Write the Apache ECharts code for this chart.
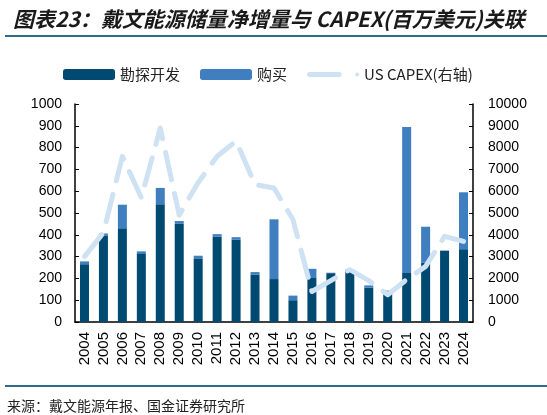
<!DOCTYPE html>
<html>
<head>
<meta charset="utf-8">
<script src="https://cdn.jsdelivr.net/npm/echarts@6/dist/echarts.min.js"></script>
<style>
html,body{margin:0;padding:0;background:#fff;}
#main{width:547px;height:415px;}
</style>
</head>
<body>
<div id="main"></div>
<script>
var years = ['2004','2005','2006','2007','2008','2009','2010','2011','2012','2013','2014',
             '2015','2016','2017','2018','2019','2020','2021','2022','2023','2024'];
// 勘探开发 (dark bars)
var explore = [265, 395, 430, 312, 540, 450, 292, 391, 377, 218, 197,
               100, 205, 224, 239, 157, 134, 225, 272, 327, 334];
// 购买 (light bars, stacked on top)
var purchase = [13, 11, 108, 12, 75, 13, 12, 12, 12, 11, 274,
                21, 39, 2, 2, 11, 10, 670, 165, 1, 261];
// US CAPEX, right axis
var capex = [3000, 4100, 7600, 5700, 8900, 4900, 6400, 7600, 8300, 6300, 6150,
             4700, 1400, 1900, 2400, 1900, 1250, 1950, 2550, 3930, 3700];

var myChart = echarts.init(document.getElementById('main'));
var numFont = 'Liberation Sans';
var cjkFont = 'Noto Sans CJK SC';
var plain = function (v) { return String(v); };
// legend icon for the dashed line: one dash and a dot
var dashIcon = 'path://M2.5,3L33.5,3A2.5,2.5 0 0 1 33.5,8L2.5,8A2.5,2.5 0 0 1 2.5,3Z' +
               'M52,3.5A2,2 0 1 1 52,7.5A2,2 0 1 1 52,3.5Z';

var option = {
    backgroundColor: '#fff',
    animation: false,
    title: {
        text: '图表23：戴文能源储量净增量与 CAPEX(百万美元)关联',
        left: 8,
        top: 4,
        textStyle: {
            fontFamily: cjkFont,
            fontSize: 21,
            fontWeight: 'bold',
            fontStyle: 'italic',
            color: '#1a1a1a'
        }
    },
    graphic: [
        { type: 'line', shape: { x1: 5, y1: 36, x2: 547, y2: 36 },
          style: { stroke: '#2f6c8c', lineWidth: 2 } },
        { type: 'line', shape: { x1: 5, y1: 386, x2: 547, y2: 386 },
          style: { stroke: '#2f6c8c', lineWidth: 2 } },
        { type: 'text', left: 7, top: 399,
          style: { text: '来源：戴文能源年报、国金证券研究所', fontFamily: cjkFont,
                   fontSize: 14, fill: '#222' } }
    ],
    legend: {
        left: 58,
        top: 62,
        itemWidth: 52,
        itemHeight: 11,
        itemGap: 20,
        textStyle: { fontFamily: cjkFont, fontSize: 15, color: '#222' },
        data: ['勘探开发', '购买', { name: 'US CAPEX(右轴)', icon: dashIcon }]
    },
    grid: {
        left: 75,
        right: 74,
        top: 104,
        bottom: 93
    },
    xAxis: {
        type: 'category',
        data: years,
        axisLine: { lineStyle: { color: '#000', width: 1.5 } },
        axisTick: { inside: true, length: 4, lineStyle: { color: '#000' } },
        axisLabel: { rotate: 90, interval: 0, margin: 10, fontFamily: numFont,
                     fontSize: 15, color: '#000' }
    },
    yAxis: [{
        type: 'value',
        min: 0,
        max: 1000,
        interval: 100,
        splitLine: { show: false },
        axisLine: { show: true, lineStyle: { color: '#000', width: 1.5 } },
        axisTick: { show: true, inside: true, length: 4, lineStyle: { color: '#000' } },
        axisLabel: { margin: 13, fontFamily: numFont, fontSize: 14, color: '#000', formatter: plain }
    }, {
        type: 'value',
        min: 0,
        max: 10000,
        interval: 1000,
        splitLine: { show: false },
        axisLine: { show: true, lineStyle: { color: '#000', width: 1.5 } },
        axisTick: { show: true, inside: true, length: 4, lineStyle: { color: '#000' } },
        axisLabel: { margin: 15, fontFamily: numFont, fontSize: 14, color: '#000', formatter: plain }
    }],
    series: [
        {
            name: '勘探开发',
            type: 'bar',
            stack: 'res',
            barWidth: 9,
            itemStyle: { color: '#004a72' },
            data: explore
        },
        {
            name: '购买',
            type: 'bar',
            stack: 'res',
            barWidth: 9,
            itemStyle: { color: '#3f7fbf' },
            data: purchase
        },
        {
            name: 'US CAPEX(右轴)',
            type: 'line',
            yAxisIndex: 1,
            symbol: 'none',
            itemStyle: { color: '#cfe2f3' },
            lineStyle: { color: '#cfe2f3', width: 5, type: [28, 14], cap: 'round', join: 'round' },
            z: 5,
            data: capex
        }
    ]
};
myChart.setOption(option);
</script>
</body>
</html>
